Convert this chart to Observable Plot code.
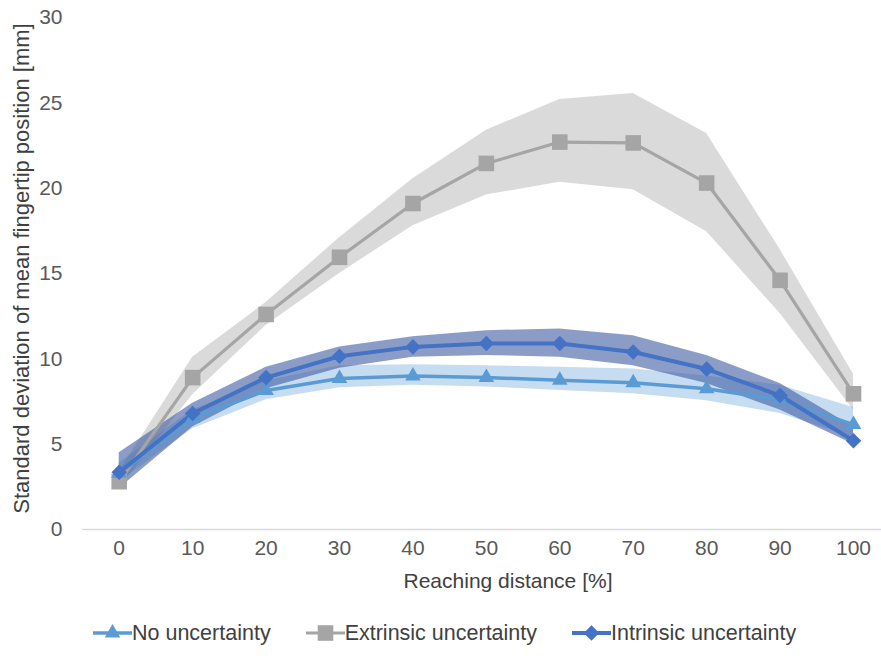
<!DOCTYPE html>
<html>
<head>
<meta charset="utf-8">
<script src="https://cdn.jsdelivr.net/npm/d3@7"></script>
<script src="https://cdn.jsdelivr.net/npm/@observablehq/plot@0.6"></script>
<style>
  html, body { margin: 0; padding: 0; background: #fff; }
  body { width: 881px; height: 656px; overflow: hidden; font-family: "Liberation Sans", Arial, sans-serif; }
  #legend { display: flex; align-items: center; padding-left: 93px; height: 46px; padding-top: 0; box-sizing: border-box; }
  .item { display: flex; align-items: center; margin-right: 35px; }
  .item span { font-size: 21.5px; color: #404040; line-height: 24px; }
</style>
</head>
<body>
<div id="chart"></div>
<div id="legend"></div>
<script>
// ---- data ----
const distance = [0, 10, 20, 30, 40, 50, 60, 70, 80, 90, 100];
const yTicks = [0, 5, 10, 15, 20, 25, 30];
const seriesNames = ["No uncertainty", "Extrinsic uncertainty", "Intrinsic uncertainty"];

const noMean = [3.3, 6.5, 8.15, 8.85, 9.0, 8.9, 8.75, 8.6, 8.25, 7.6, 6.15];
const noLo   = [2.8, 5.9, 7.6, 8.3, 8.45, 8.35, 8.15, 7.95, 7.55, 6.8, 5.4];
const noHi   = [3.9, 7.0, 8.7, 9.6, 9.65, 9.6, 9.5, 9.4, 9.0, 8.45, 7.15];

const extMean = [2.8, 8.9, 12.6, 15.95, 19.1, 21.45, 22.7, 22.65, 20.3, 14.6, 7.95];
const extLo   = [2.4, 7.9, 11.95, 15.0, 17.8, 19.6, 20.35, 19.9, 17.45, 12.65, 7.0];
const extHi   = [3.4, 10.1, 13.3, 17.1, 20.55, 23.4, 25.2, 25.55, 23.2, 16.4, 9.1];

const intMean = [3.35, 6.8, 8.9, 10.15, 10.7, 10.9, 10.9, 10.4, 9.4, 7.85, 5.2];
const intLo   = [2.4, 6.0, 8.25, 9.45, 10.1, 10.2, 10.1, 9.6, 8.55, 7.0, 5.0];
const intHi   = [4.5, 7.4, 9.5, 10.7, 11.3, 11.65, 11.75, 11.35, 10.2, 8.55, 6.0];

// ---- styles ----
const styles = {
  "No uncertainty":        {line: "#5B9BD5", band: "#5B9BD5", bandOpacity: 0.35, symbol: "triangle", r: 5.8, sw: 3.5},
  "Extrinsic uncertainty": {line: "#A5A5A5", band: "#BFBFBF", bandOpacity: 0.58, symbol: "square",   r: 8.8, sw: 3.2},
  "Intrinsic uncertainty": {line: "#4472C4", band: "#3E5CA2", bandOpacity: 0.6,  symbol: "diamond2", r: 7.0, sw: 4}
};

function rows(name, mean, lo, hi) {
  return distance.map((d, i) => ({series: name, d, mean: mean[i], lo: lo[i], hi: hi[i]}));
}
const noRows = rows(seriesNames[0], noMean, noLo, noHi);
const extRows = rows(seriesNames[1], extMean, extLo, extHi);
const intRows = rows(seriesNames[2], intMean, intLo, intHi);

function band(data) {
  const s = styles[data[0].series];
  return Plot.areaY(data, {x: "d", y1: "lo", y2: "hi", fill: s.band, fillOpacity: s.bandOpacity});
}
function line(data) {
  const s = styles[data[0].series];
  return Plot.line(data, {x: "d", y: "mean", stroke: s.line, strokeWidth: s.sw, strokeLinejoin: "round"});
}
function dots(data) {
  const s = styles[data[0].series];
  return Plot.dot(data, {x: "d", y: "mean", symbol: () => s.symbol, r: s.r, fill: s.line, stroke: "none"});
}

const chart = Plot.plot({
  width: 881,
  height: 610,
  marginTop: 17,
  marginBottom: 81,
  marginLeft: 82,
  marginRight: 0,
  style: {fontFamily: "'Liberation Sans', Arial, sans-serif", color: "#595959", background: "#fff"},
  x: {type: "linear", domain: [-5, 103.81]},
  y: {domain: [0, 30]},
  symbol: {type: "identity"},
  marks: [
    band(extRows),
    band(noRows),
    band(intRows),
    Plot.ruleY([0], {stroke: "#D9D9D9", strokeWidth: 1.5}),
    line(extRows),
    line(noRows),
    line(intRows),
    dots(extRows),
    dots(noRows),
    dots(intRows),
    Plot.axisX(distance, {tickSize: 0, tickPadding: 11, fontSize: 21, label: null, tickFormat: d => String(d)}),
    Plot.axisY(yTicks, {tickSize: 0, tickPadding: 20, fontSize: 21, label: null, tickFormat: d => String(d)}),
    Plot.text(["Reaching distance [%]"], {text: d => d, frameAnchor: "bottom", dy: 58, dx: 26, fontSize: 21, fill: "#404040"}),
    Plot.text(["Standard deviation of mean fingertip position [mm]"], {text: d => d, frameAnchor: "left", textAnchor: "middle", rotate: -90, dx: -61, dy: -5, fontSize: 22, fill: "#404040"})
  ]
});
document.getElementById("chart").appendChild(chart);

// ---- legend ----
const legend = d3.select("#legend");
const symbolMap = {triangle: d3.symbolTriangle, square: d3.symbolSquare, diamond2: d3.symbolDiamond2};
seriesNames.forEach(name => {
  const s = styles[name];
  const item = legend.append("div").attr("class", "item");
  const svg = item.append("svg").attr("width", 39).attr("height", 20);
  svg.append("line").attr("x1", 0).attr("x2", 39).attr("y1", 10).attr("y2", 10)
    .attr("stroke", s.line).attr("stroke-width", s.sw);
  svg.append("path").attr("transform", "translate(19.5,10)")
    .attr("d", d3.symbol(symbolMap[s.symbol], Math.PI * s.r * s.r)())
    .attr("fill", s.line);
  item.append("span").text(name);
});
</script>
</body>
</html>
